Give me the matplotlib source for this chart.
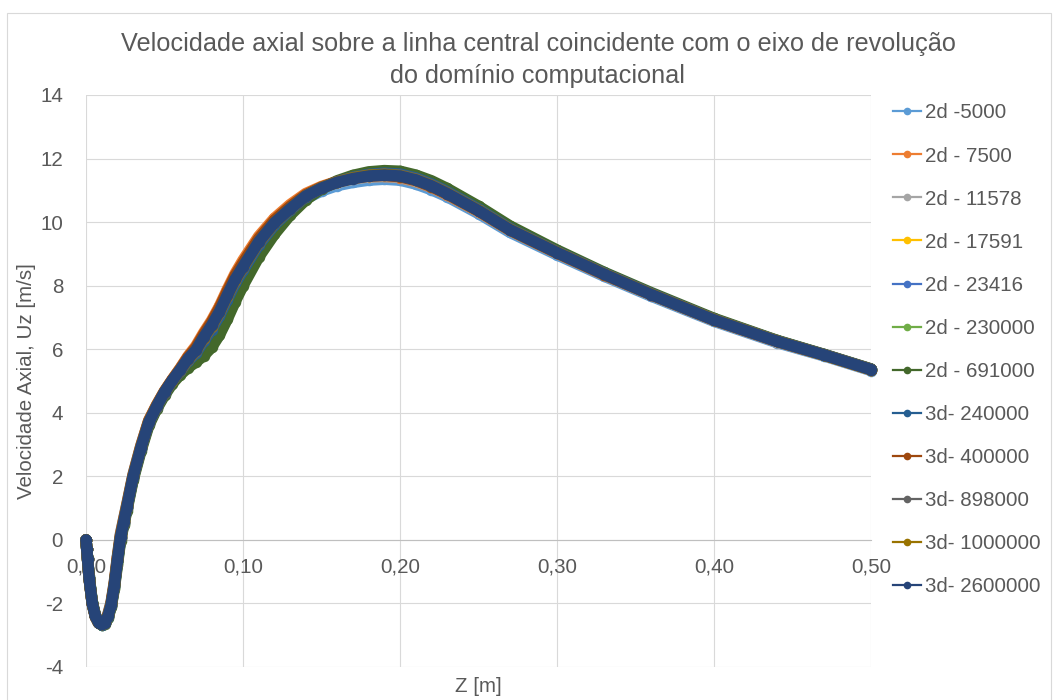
import matplotlib
matplotlib.use('Agg')
import matplotlib.pyplot as plt
from matplotlib.lines import Line2D
from matplotlib.patches import Rectangle

# ---------------- data ----------------
z_m = [0.0, 0.0005, 0.001, 0.002, 0.004, 0.006, 0.008, 0.010, 0.012, 0.014,
       0.016, 0.018, 0.020, 0.022, 0.024, 0.026, 0.030, 0.035, 0.040, 0.045,
       0.050, 0.055, 0.060, 0.065, 0.070, 0.075, 0.080, 0.085, 0.090, 0.095,
       0.100, 0.110, 0.120, 0.130, 0.140, 0.150, 0.160, 0.170, 0.180, 0.190,
       0.200, 0.210, 0.220, 0.230, 0.250, 0.270, 0.300, 0.330, 0.360, 0.400,
       0.440, 0.470, 0.500]

u_2d_5000 = [0.0, -0.31, -0.62, -1.22, -2.03, -2.43, -2.62, -2.64, -2.56, -2.33, -1.96, -1.34, -0.52, 0.2, 0.66, 1.12, 2.06, 2.97, 3.75, 4.23, 4.66, 5.03, 5.38, 5.75, 6.05, 6.45, 6.82, 7.26, 7.76, 8.24, 8.66, 9.4, 9.96, 10.38, 10.74, 10.98, 11.15, 11.25, 11.32, 11.35, 11.32, 11.2, 11.02, 10.8, 10.27, 9.68, 8.97, 8.3, 7.67, 6.88, 6.21, 5.79, 5.33]
u_2d_7500 = [0.0, -0.3, -0.62, -1.22, -2.02, -2.42, -2.62, -2.65, -2.57, -2.35, -1.98, -1.36, -0.55, 0.18, 0.64, 1.1, 2.05, 2.97, 3.76, 4.25, 4.68, 5.05, 5.4, 5.78, 6.1, 6.52, 6.9, 7.35, 7.88, 8.38, 8.8, 9.55, 10.12, 10.55, 10.9, 11.12, 11.28, 11.38, 11.43, 11.44, 11.4, 11.28, 11.1, 10.86, 10.33, 9.74, 9.02, 8.34, 7.71, 6.91, 6.24, 5.81, 5.35]
u_2d_11578 = [0.0, -0.3, -0.61, -1.21, -2.01, -2.41, -2.61, -2.66, -2.59, -2.38, -2.02, -1.41, -0.6, 0.13, 0.6, 1.06, 2.01, 2.93, 3.72, 4.22, 4.66, 5.03, 5.37, 5.73, 6.02, 6.43, 6.8, 7.24, 7.76, 8.26, 8.66, 9.43, 10.02, 10.46, 10.83, 11.07, 11.24, 11.35, 11.42, 11.44, 11.41, 11.29, 11.11, 10.87, 10.34, 9.75, 9.03, 8.35, 7.71, 6.91, 6.24, 5.81, 5.35]
u_2d_17591 = [0.0, -0.3, -0.6, -1.2, -2.0, -2.4, -2.61, -2.66, -2.6, -2.39, -2.04, -1.43, -0.63, 0.1, 0.57, 1.04, 1.99, 2.91, 3.71, 4.21, 4.65, 5.02, 5.36, 5.71, 5.99, 6.4, 6.77, 7.21, 7.73, 8.23, 8.63, 9.4, 10.0, 10.44, 10.83, 11.08, 11.26, 11.38, 11.46, 11.49, 11.46, 11.34, 11.15, 10.91, 10.37, 9.77, 9.05, 8.37, 7.73, 6.93, 6.26, 5.82, 5.36]
u_2d_23416 = [0.0, -0.3, -0.6, -1.2, -2.0, -2.4, -2.6, -2.66, -2.6, -2.4, -2.05, -1.45, -0.65, 0.08, 0.55, 1.02, 1.98, 2.9, 3.7, 4.2, 4.64, 5.01, 5.34, 5.68, 5.95, 6.36, 6.73, 7.16, 7.68, 8.18, 8.58, 9.36, 9.97, 10.42, 10.82, 11.08, 11.26, 11.39, 11.47, 11.5, 11.47, 11.35, 11.16, 10.92, 10.38, 9.78, 9.06, 8.38, 7.74, 6.94, 6.26, 5.83, 5.37]
u_2d_230000 = [0.0, -0.29, -0.59, -1.17, -1.97, -2.39, -2.6, -2.67, -2.62, -2.43, -2.09, -1.5, -0.72, 0.03, 0.5, 0.97, 1.92, 2.85, 3.65, 4.15, 4.6, 4.97, 5.27, 5.55, 5.78, 6.05, 6.36, 6.8, 7.3, 7.82, 8.3, 9.1, 9.78, 10.32, 10.76, 11.06, 11.27, 11.42, 11.52, 11.56, 11.53, 11.41, 11.23, 10.99, 10.44, 9.83, 9.09, 8.4, 7.75, 6.95, 6.27, 5.83, 5.37]
u_2d_691000 = [0.0, -0.28, -0.58, -1.15, -1.95, -2.38, -2.6, -2.68, -2.64, -2.46, -2.12, -1.55, -0.78, -0.02, 0.46, 0.92, 1.88, 2.8, 3.6, 4.12, 4.55, 4.92, 5.2, 5.42, 5.6, 5.8, 6.06, 6.45, 6.95, 7.5, 8.0, 8.9, 9.62, 10.22, 10.7, 11.05, 11.3, 11.47, 11.58, 11.62, 11.6, 11.48, 11.3, 11.06, 10.5, 9.88, 9.12, 8.42, 7.78, 6.97, 6.28, 5.84, 5.38]
u_3d_240000 = [0.0, -0.29, -0.6, -1.19, -1.99, -2.4, -2.61, -2.67, -2.61, -2.42, -2.07, -1.47, -0.68, 0.05, 0.52, 0.99, 1.95, 2.87, 3.68, 4.18, 4.62, 4.99, 5.31, 5.63, 5.88, 6.26, 6.62, 7.05, 7.56, 8.07, 8.48, 9.28, 9.91, 10.38, 10.8, 11.07, 11.27, 11.41, 11.5, 11.54, 11.51, 11.39, 11.2, 10.96, 10.41, 9.8, 9.07, 8.39, 7.75, 6.94, 6.27, 5.83, 5.37]
u_3d_400000 = [0.0, -0.3, -0.61, -1.21, -2.01, -2.41, -2.61, -2.65, -2.58, -2.37, -2.01, -1.4, -0.59, 0.14, 0.61, 1.07, 2.02, 2.94, 3.74, 4.23, 4.67, 5.04, 5.38, 5.75, 6.05, 6.47, 6.85, 7.3, 7.82, 8.32, 8.72, 9.48, 10.06, 10.49, 10.86, 11.1, 11.27, 11.38, 11.45, 11.47, 11.43, 11.31, 11.12, 10.88, 10.35, 9.75, 9.03, 8.35, 7.72, 6.92, 6.25, 5.82, 5.36]
u_3d_898000 = [0.0, -0.3, -0.6, -1.2, -2.0, -2.4, -2.6, -2.66, -2.6, -2.41, -2.06, -1.46, -0.66, 0.07, 0.54, 1.01, 1.97, 2.89, 3.69, 4.19, 4.63, 5.0, 5.33, 5.66, 5.93, 6.33, 6.7, 7.13, 7.65, 8.15, 8.56, 9.34, 9.96, 10.41, 10.82, 11.08, 11.27, 11.4, 11.48, 11.51, 11.48, 11.36, 11.17, 10.93, 10.38, 9.78, 9.06, 8.38, 7.74, 6.94, 6.26, 5.83, 5.37]
u_3d_1000000 = [0.0, -0.3, -0.6, -1.2, -2.0, -2.4, -2.6, -2.66, -2.6, -2.4, -2.05, -1.45, -0.65, 0.08, 0.55, 1.02, 1.98, 2.9, 3.7, 4.2, 4.64, 5.01, 5.34, 5.68, 5.96, 6.36, 6.73, 7.16, 7.68, 8.18, 8.58, 9.37, 9.97, 10.42, 10.82, 11.08, 11.26, 11.39, 11.47, 11.5, 11.46, 11.34, 11.15, 10.91, 10.37, 9.77, 9.05, 8.37, 7.73, 6.93, 6.26, 5.82, 5.36]
u_3d_2600000 = [0.0, -0.3, -0.6, -1.2, -2.0, -2.4, -2.6, -2.66, -2.6, -2.4, -2.05, -1.45, -0.65, 0.08, 0.55, 1.02, 1.98, 2.9, 3.7, 4.2, 4.65, 5.02, 5.35, 5.7, 5.97, 6.38, 6.75, 7.18, 7.7, 8.2, 8.6, 9.38, 9.98, 10.42, 10.82, 11.07, 11.25, 11.37, 11.45, 11.48, 11.45, 11.33, 11.14, 10.9, 10.36, 9.76, 9.04, 8.36, 7.72, 6.92, 6.25, 5.82, 5.36]

series_labels = ["2d -5000", "2d - 7500", "2d - 11578", "2d - 17591", "2d - 23416",
                 "2d - 230000", "2d - 691000", "3d- 240000", "3d- 400000",
                 "3d- 898000", "3d- 1000000", "3d- 2600000"]

x_ticks = [0.0, 0.1, 0.2, 0.3, 0.4, 0.5]
x_tick_labels = ["0,00", "0,10", "0,20", "0,30", "0,40", "0,50"]
y_ticks = [-4, -2, 0, 2, 4, 6, 8, 10, 12, 14]
y_tick_labels = ["-4", "-2", "0", "2", "4", "6", "8", "10", "12", "14"]

title_line1 = "Velocidade axial sobre a linha central coincidente com o eixo de revolução"
title_line2 = "do domínio computacional"
x_label = "Z [m]"
y_label = "Velocidade Axial, Uz [m/s]"

# ---------------- style ----------------
series_values = [u_2d_5000, u_2d_7500, u_2d_11578, u_2d_17591, u_2d_23416,
                 u_2d_230000, u_2d_691000, u_3d_240000, u_3d_400000,
                 u_3d_898000, u_3d_1000000, u_3d_2600000]
colors = ['#5B9BD5', '#ED7D31', '#A5A5A5', '#FFC000', '#4472C4', '#70AD47',
          '#43682B', '#255E91', '#9E480E', '#636363', '#997300', '#264478']

plt.rcParams['font.family'] = ['Liberation Sans', 'DejaVu Sans']
TXT = '#595959'
GRID = '#D9D9D9'
W, H = 1055, 700
FS = 14.8

fig = plt.figure(figsize=(W / 100, H / 100), dpi=100)
ax = fig.add_axes([86 / W, (H - 667) / H, (871 - 86) / W, (667 - 95) / H])

for i, (vals, c) in enumerate(zip(series_values, colors)):
    ax.plot(z_m, vals, color=c, lw=8.3, marker='o', ms=8.3, mew=0,
            solid_joinstyle='round', solid_capstyle='round',
            clip_on=False, zorder=3 + i * 0.01)

ax.set_xlim(0, 0.5)
ax.set_ylim(-4, 14)
ax.set_xticks(x_ticks)
ax.set_xticklabels(x_tick_labels)
ax.set_yticks(y_ticks)
ax.set_yticklabels(y_tick_labels)
ax.tick_params(axis='x', length=0, pad=13, labelsize=FS, colors=TXT)
ax.tick_params(axis='y', length=0, pad=16.5, labelsize=FS, colors=TXT)
ax.grid(True, color=GRID, lw=0.8)
ax.set_axisbelow(True)
for s in ['top', 'right', 'left']:
    ax.spines[s].set_visible(False)
ax.spines['bottom'].set_position(('data', 0))
ax.spines['bottom'].set_color('#BFBFBF')
ax.spines['bottom'].set_linewidth(0.8)
ax.spines['bottom'].set_zorder(1)

fig.text(538 / W, 1 - 44 / H, title_line1, ha='center', va='center',
         fontsize=18.2, color=TXT)
fig.text(538 / W, 1 - 76 / H, title_line2, ha='center', va='center',
         fontsize=18.2, color=TXT)
fig.text(478 / W, 1 - 686 / H, x_label, ha='center', va='center',
         fontsize=FS, color=TXT)
fig.text(27 / W, 1 - 381 / H, y_label, ha='center', va='center',
         rotation=90, fontsize=FS, color=TXT)

handles = [Line2D([], [], color=c, lw=1.6, marker='o', ms=5.5, mew=0) for c in colors]
fig.legend(handles, series_labels, loc='upper left',
           bbox_to_anchor=(893 / W, 1 - 103.5 / H), frameon=False,
           borderpad=0, borderaxespad=0, handlelength=1.36,
           handletextpad=0.2, labelspacing=1.17, fontsize=FS,
           labelcolor=TXT)

fig.patches.append(Rectangle((7 / W, -0.1), (1051 - 7) / W, 1.1 - 13 / H,
                             transform=fig.transFigure, fill=False,
                             edgecolor=GRID, lw=0.8))

fig.savefig('out.png', dpi=100)
